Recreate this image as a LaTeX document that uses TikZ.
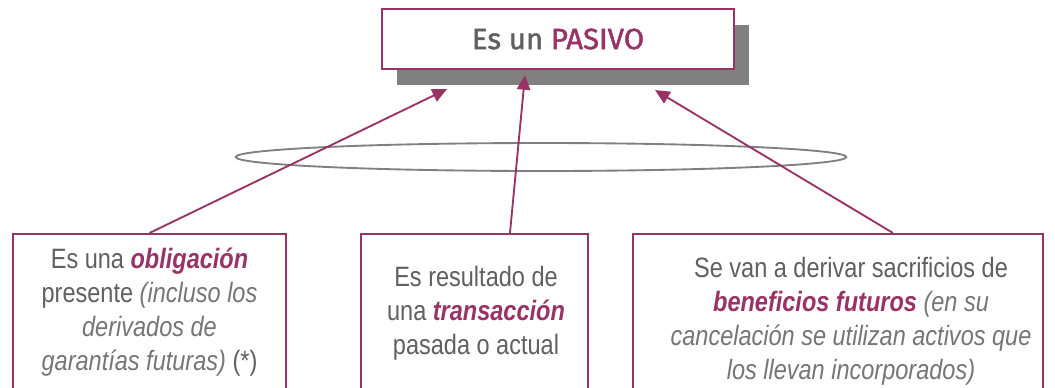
\documentclass[tikz,border=0pt]{standalone}
\usepackage{fontspec}
\setmainfont{Liberation Sans}[FakeStretch=0.84]
\newfontfamily\titlefont{Fira Sans}[FakeBold=1.6]
\usetikzlibrary{arrows.meta, positioning, shadows}
\definecolor{plum}{RGB}{153,51,102}
\definecolor{txtgray}{RGB}{96,96,96}
\definecolor{softgray}{RGB}{118,118,118}
\definecolor{shadegray}{RGB}{128,128,128}
\newcommand{\hl}[1]{\textcolor{plum}{\textbf{\textit{#1}}}}
\newcommand{\nt}[1]{\textcolor{softgray}{\textit{#1}}}

\begin{document}
\begin{tikzpicture}[x=0.75pt, y=-0.75pt,
    box/.style={draw=plum, line width=1.4pt, fill=white, inner sep=0pt},
    txt/.style={align=center, text=txtgray, font=\fontsize{21}{25.5}\selectfont},
    arr/.style={draw=plum, line width=1.4pt, -{Triangle[length=11pt, width=10pt]}},
    ring/.style={draw=shadegray, line width=1.4pt}]
    \useasboundingbox (0,0) rectangle (1055,387);
    \clip (0,0) rectangle (1055,387);

    % top box
    \node[box, line width=1.6pt, minimum width=264pt, minimum height=45pt,
        drop shadow={shadow xshift=11.25pt, shadow yshift=-12pt, fill=shadegray, opacity=1}]
        (pasivo) at (558,39) {\titlefont\fontsize{22}{26}\selectfont\color{txtgray}Es un \textcolor{plum}{PASIVO}};

    % bottom boxes
    \node[box, anchor=north, minimum width=204.75pt, minimum height=124pt] (obl) at (149.5,233) {};
    \node[box, anchor=north, minimum width=170.25pt, minimum height=124pt] (trans) at (474.5,233) {};
    \node[box, anchor=north, minimum width=307.5pt, minimum height=124pt] (benef) at (838,233) {};

    \node[txt] (obltxt) at (149.5,312) {Es una \hl{obligación}\\presente \nt{(incluso los}\\\nt{derivados de}\\\nt{garantías futuras)} (*)};
    \node[txt] (transtxt) at (476,313) {Es resultado de\\una \hl{transacción}\\pasada o actual};
    \node[txt] (beneftxt) at (851,321) {Se van a derivar sacrificios de\\\hl{beneficios futuros} \nt{(en su}\\\nt{cancelación se utilizan activos que}\\\nt{los llevan incorporados)}};

    \draw[ring] (541,157) ellipse [x radius=229pt, y radius=10.5pt];

    \coordinate (tip1) at ([shift={(-111,19)}]pasivo.south);
    \coordinate (tip2) at ([shift={(-33,5)}]pasivo.south);
    \coordinate (tip3) at ([shift={(97,20)}]pasivo.south);
    \draw[arr] (obl.north) -- (tip1);
    \draw[arr] ([xshift=26.6pt]trans.north) -- (tip2);
    \draw[arr] ([xshift=41.25pt]benef.north) -- (tip3);
\end{tikzpicture}
\end{document}
